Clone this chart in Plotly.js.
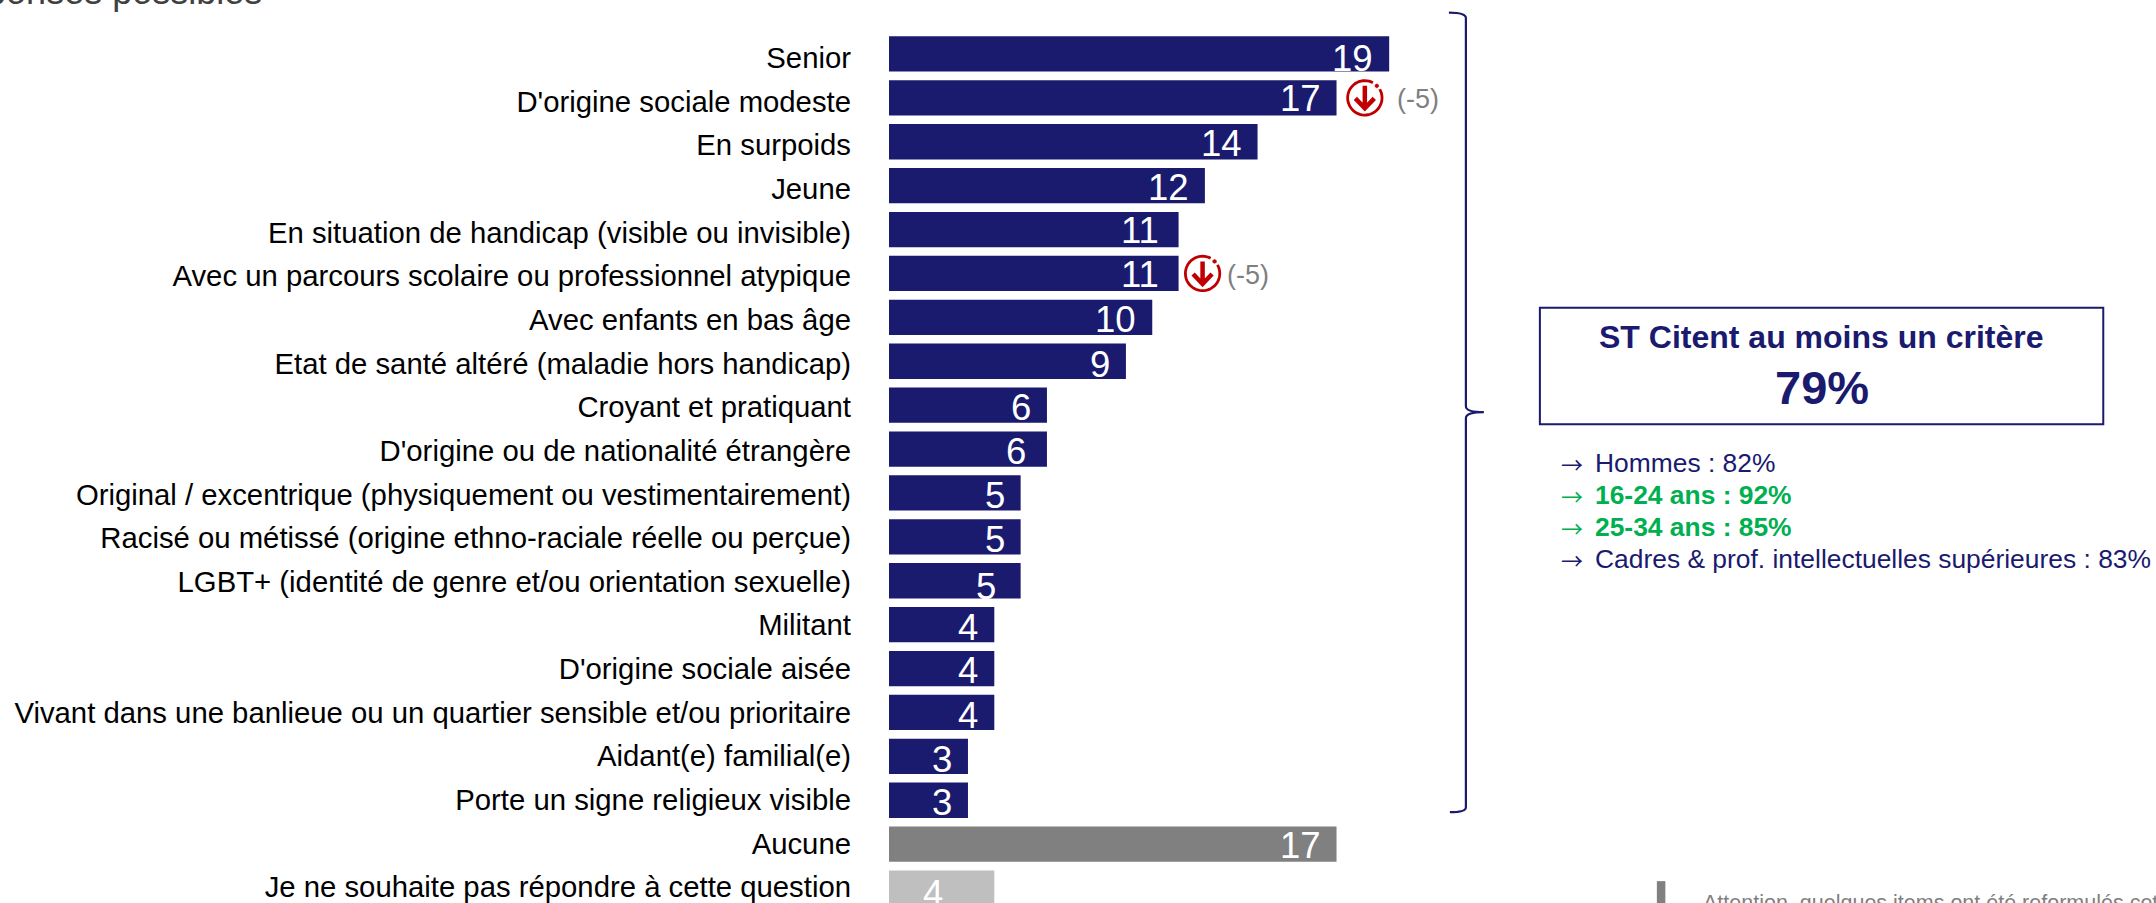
<!DOCTYPE html>
<html><head><meta charset="utf-8">
<script src="https://cdn.plot.ly/plotly-3.0.1.min.js"></script>
<style>html,body{margin:0;padding:0;background:#fff;width:2156px;height:903px;overflow:hidden}
#wrap{position:absolute;left:0;top:0;width:2156px;height:903px;overflow:hidden}
#gd{position:absolute;left:-300px;top:-60px}</style>
</head><body><div id="wrap"><div id="gd"></div></div>
<script>
const categories = ["Senior","D'origine sociale modeste","En surpoids","Jeune","En situation de handicap (visible ou invisible)","Avec un parcours scolaire ou professionnel atypique","Avec enfants en bas âge","Etat de santé altéré (maladie hors handicap)","Croyant et pratiquant","D'origine ou de nationalité étrangère","Original / excentrique (physiquement ou vestimentairement)","Racisé ou métissé (origine ethno-raciale réelle ou perçue)","LGBT+ (identité de genre et/ou orientation sexuelle)","Militant","D'origine sociale aisée","Vivant dans une banlieue ou un quartier sensible et/ou prioritaire","Aidant(e) familial(e)","Porte un signe religieux visible","Aucune","Je ne souhaite pas répondre à cette question"];
const values = [19,17,14,12,11,11,10,9,6,6,5,5,5,4,4,4,3,3,17,4];
const barColors = Array(18).fill("#1A1A6E").concat(["#808080","#BFBFBF"]);
const labelGapX = [16,16,16,16,20,20,16,16,16,21,16,16,25,16,16,16,16,16,16,51];
const labelDropY = [5,1,1.3,1.7,1,1,2,3,2.3,2.3,2.3,2.7,5.7,2.7,2,3,3.3,2,1,5.7];
const deltaRows = [1,5];
const deltaLabels = ["(-5)","(-5)"];
const iconOffsetX = [28.3,24];
const deltaTextOffsetX = [60.5,48];
const headline = "Plusieurs réponses possibles";
const boxTitle = "ST Citent au moins un critère";
const boxValue = "79%";
const bullets = [["Hommes : 82%",false],["16-24 ans : 92%",true],["25-34 ans : 85%",true],["Cadres & prof. intellectuelles supérieures : 83%",false]];
const note = "Attention, quelques items ont été reformulés cette année";

const NAVY="#1A1A6E", GREEN="#00B050", RED="#C00000", GREY="#7F7F7F";
const FONT="Liberation Sans, Arial, sans-serif";
const W=2700,H=1100,OX=300,OY=60;
const X0=889,UNIT=26.33,XMAX=40,Y0=31.85,PITCH=43.9,N=categories.length;
const LABEL_Y0=57.6,LABEL_PITCH=43.65;
const PW=UNIT*XMAX,PH=PITCH*N;
const m={l:X0+OX,t:Y0+OY,r:W-(X0+OX)-PW,b:H-(Y0+OY)-PH,pad:0};
const px=x=>(x-X0)/PW, py=y=>1-(y-Y0)/PH;

const ann=[];
const T=(x,y,text,size,color,anchor,bold,font)=>ann.push({xref:'paper',yref:'paper',x:px(x),y:py(y),text:bold?'<b>'+text+'</b>':text,showarrow:false,xanchor:anchor,yanchor:'middle',borderpad:0,borderwidth:0,font:{family:font||FONT,size:size,color:color}});

values.forEach((v,i)=>ann.push({xref:'x',yref:'y',x:v,y:categories[i],text:String(v),showarrow:false,xanchor:'right',yanchor:'middle',xshift:-labelGapX[i],yshift:-labelDropY[i],borderpad:0,borderwidth:0,font:{family:FONT,size:36.5,color:'#fff'}}));

T(262,-9,headline,36,'#404040','right');
T(1822,337,boxTitle,32,NAVY,'center',true);
T(1822,387,boxValue,47,NAVY,'center',true);
const by=[463,495,527,559];
bullets.forEach((b,i)=>{const c=b[1]?GREEN:NAVY;T(1561,by[i],'→',22,c,'left',false,'Noto Sans CJK JP');T(1595,by[i],b[0],26.4,c,'left',b[1]);});
T(1703,903,note,21.5,GREY,'left');

const shapes=[];
const pg=(path,line,fill)=>shapes.push({type:'path',xref:'paper',yref:'paper',path,line,fillcolor:fill||'rgba(0,0,0,0)'});
const Px=x=>px(x).toFixed(6), Py=y=>py(y).toFixed(6);
pg(`M${Px(1449)},${Py(12.5)} Q${Px(1466)},${Py(12.5)} ${Px(1466)},${Py(18)} L${Px(1466)},${Py(406)} Q${Px(1466)},${Py(412)} ${Px(1484)},${Py(412)} Q${Px(1466)},${Py(412)} ${Px(1466)},${Py(418)} L${Px(1466)},${Py(807)} Q${Px(1466)},${Py(812)} ${Px(1450)},${Py(812)}`,{color:NAVY,width:2.2});
shapes.push({type:'rect',xref:'paper',yref:'paper',x0:px(1540),x1:px(2103.5),y0:py(307.5),y1:py(424),line:{color:NAVY,width:2},fillcolor:'rgba(0,0,0,0)'});
shapes.push({type:'rect',xref:'paper',yref:'paper',x0:px(1657),x1:px(1665.5),y0:py(881),y1:py(930),line:{width:0},fillcolor:'#808080'});
const arcPath=(cx,cy,r,fromDeg,toDeg,steps,close)=>{let s='';for(let i=0;i<=steps;i++){const a=(fromDeg+(toDeg-fromDeg)*i/steps)*Math.PI/180;s+=(i?'L':'M')+(cx+r*Math.cos(a)).toFixed(2)+','+(cy+r*Math.sin(a)).toFixed(2)+' ';}return s+(close?'Z':'');};
deltaRows.forEach((r,k)=>{
  const d=iconOffsetX[k], a={xref:'x',yref:'y',xsizemode:'pixel',ysizemode:'pixel',xanchor:values[r],yanchor:categories[r],type:'path'};
  shapes.push(Object.assign({},a,{path:arcPath(d,0,17.2,62,390,48),line:{color:RED,width:2.8},fillcolor:'rgba(0,0,0,0)'}));
  shapes.push(Object.assign({},a,{path:arcPath(d+12,12,1.9,0,360,12,true),line:{color:RED,width:0.5},fillcolor:RED}));
  shapes.push(Object.assign({},a,{path:`M${d},12 L${d},-10 M${d-9.5},-0.5 L${d},-10.5 L${d+9.5},-0.5`,line:{color:RED,width:4.5},fillcolor:'rgba(0,0,0,0)'}));
  ann.push({xref:'x',yref:'y',x:values[r],y:categories[r],text:deltaLabels[k],showarrow:false,xanchor:'left',yanchor:'middle',xshift:deltaTextOffsetX[k],yshift:-1.5,borderpad:0,borderwidth:0,font:{family:FONT,size:27,color:GREY}});
});

const labelRangeTop=(Y0-LABEL_Y0)/LABEL_PITCH, labelRangeBottom=(Y0+PH-LABEL_Y0)/LABEL_PITCH;
Plotly.newPlot('gd',[
 {type:'bar',orientation:'h',x:values,y:categories,marker:{color:barColors,line:{width:0}},width:0.804,hoverinfo:'skip',cliponaxis:false},
 {type:'bar',orientation:'h',x:values.map(()=>0),y:categories,yaxis:'y2',marker:{opacity:0},hoverinfo:'skip'}
],{
  width:W,height:H,margin:m,paper_bgcolor:'rgba(0,0,0,0)',plot_bgcolor:'rgba(0,0,0,0)',showlegend:false,
  xaxis:{range:[0,XMAX],visible:false,fixedrange:true},
  yaxis:{type:'category',categoryorder:'array',categoryarray:categories,range:[N-0.5,-0.5],showgrid:false,zeroline:false,showline:false,ticks:'',showticklabels:false,automargin:false,fixedrange:true},
  yaxis2:{type:'category',overlaying:'y',side:'left',categoryorder:'array',categoryarray:categories,range:[labelRangeBottom,labelRangeTop],showgrid:false,zeroline:false,showline:false,ticks:'',ticklabelstandoff:37,tickmode:'array',tickvals:categories,ticktext:categories,tickfont:{family:FONT,size:29.3,color:'#000'},automargin:false,fixedrange:true},
  annotations:ann,shapes:shapes
},{displayModeBar:false,staticPlot:true});
</script></body></html>
